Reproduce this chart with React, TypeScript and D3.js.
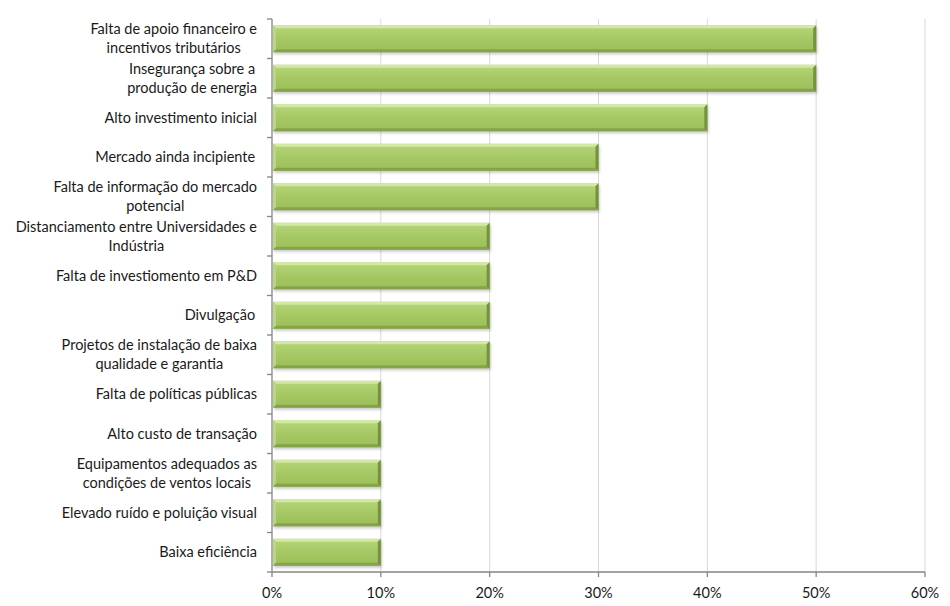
import React from "react";
import * as d3 from "d3";

const categories: string[][] = [
  ["Falta de apoio financeiro e", "incentivos tributários"],
  ["Insegurança sobre a", "produção de energia"],
  ["Alto investimento inicial"],
  ["Mercado ainda incipiente "],
  ["Falta de informação do mercado", "potencial"],
  ["Distanciamento entre Universidades e", "Indústria"],
  ["Falta de investiomento em P&D"],
  ["Divulgação "],
  ["Projetos de instalação de baixa", "qualidade e garantia"],
  ["Falta de políticas públicas"],
  ["Alto custo de transação"],
  ["Equipamentos adequados as", "condições de ventos locais "],
  ["Elevado ruído e poluição visual"],
  ["Baixa eficiência"],
];
const values: number[] = [0.5, 0.5, 0.4, 0.3, 0.3, 0.2, 0.2, 0.2, 0.2, 0.1, 0.1, 0.1, 0.1, 0.1];
const xTicks: number[] = [0, 0.1, 0.2, 0.3, 0.4, 0.5, 0.6];

const W = 950, H = 606;
const left = 272, right = 925, top = 19, bottom = 572;
const FONT = "Lato, 'Open Sans', sans-serif";
const FS = 14.5;

let ctx: CanvasRenderingContext2D | null = null;
function measure(t: string): number {
  if (!ctx) ctx = document.createElement("canvas").getContext("2d");
  if (!ctx) return t.length * 7;
  ctx.font = `${FS}px Lato`;
  return ctx.measureText(t).width;
}

export default function App() {
  const x = d3.scaleLinear().domain([0, 0.6]).range([left, right]);
  const idx = categories.map((_, i) => String(i));
  const y = d3.scaleBand().domain(idx).range([top, bottom]).paddingInner(0.32).paddingOuter(0.16);
  const bw = y.bandwidth();
  const step = y.step();
  const fmt = d3.format(".0%");
  const b = 3;

  return (
    <svg width={W} height={H} style={{ position: "absolute", left: 0, top: 0, background: "#fff" }}>
      <defs>
        <linearGradient id="gmain" x1="0" y1="0" x2="0" y2="1">
          <stop offset="0" stopColor="#b6d67a" />
          <stop offset="0.5" stopColor="#a6c864" />
          <stop offset="1" stopColor="#9cbf5a" />
        </linearGradient>
        <filter id="sh" x="-5%" y="-20%" width="110%" height="160%">
          <feGaussianBlur stdDeviation="1.5" />
        </filter>
      </defs>
      {xTicks.slice(1).map((t) => (
        <line key={"g" + t} x1={x(t)} x2={x(t)} y1={top} y2={bottom} stroke="#d9d9d9" strokeWidth={1} />
      ))}
      {values.map((v, i) => {
        const y0 = y(String(i))!;
        const x0 = x(0) + 1;
        const x1 = x(v);
        const y1 = y0 + bw;
        return (
          <g key={"b" + i}>
            <rect x={x0 + 1} y={y0 + 2} width={x1 - x0} height={bw} fill="#000" opacity={0.22} filter="url(#sh)" />
            <rect x={x0} y={y0} width={x1 - x0} height={bw} fill="url(#gmain)" />
            <polygon points={`${x0},${y0} ${x1},${y0} ${x1 - b},${y0 + b} ${x0 + b},${y0 + b}`} fill="#d3e8a4" />
            <polygon points={`${x0},${y0} ${x0 + b},${y0 + b} ${x0 + b},${y1 - b} ${x0},${y1}`} fill="#b9d680" />
            <polygon points={`${x0},${y1} ${x0 + b},${y1 - b} ${x1 - b},${y1 - b} ${x1},${y1}`} fill="#86a34c" />
            <polygon points={`${x1},${y0} ${x1},${y1} ${x1 - b},${y1 - b} ${x1 - b},${y0 + b}`} fill="#76923f" />
          </g>
        );
      })}
      <line x1={left} x2={left} y1={top} y2={bottom} stroke="#868686" strokeWidth={1.3} />
      <line x1={left} x2={right} y1={bottom} y2={bottom} stroke="#868686" strokeWidth={1.3} />
      {d3.range(categories.length + 1).map((k) => (
        <line key={"yt" + k} x1={left - 5} x2={left} y1={top + k * step} y2={top + k * step} stroke="#868686" strokeWidth={1.3} />
      ))}
      {xTicks.map((t) => (
        <g key={"xt" + t}>
          <line x1={x(t)} x2={x(t)} y1={bottom} y2={bottom + 5} stroke="#868686" strokeWidth={1.3} />
          <text x={x(t)} y={bottom + 26} textAnchor="middle" fontFamily={FONT} fontSize={FS} fill="#1a1a1a">
            {fmt(t)}
          </text>
        </g>
      ))}
      {categories.map((lines, i) => {
        const cy = y(String(i))! + bw / 2;
        const widths = lines.map(measure);
        const maxW = Math.max(...widths);
        const cx = 257 - maxW / 2;
        const lh = 19;
        const y0 = cy - ((lines.length - 1) * lh) / 2 + 5;
        return (
          <text key={"l" + i} fontFamily={FONT} fontSize={FS} fill="#1a1a1a" textAnchor="middle">
            {lines.map((ln, j) => (
              <tspan key={j} x={cx} y={y0 + j * lh}>
                {ln}
              </tspan>
            ))}
          </text>
        );
      })}
    </svg>
  );
}
